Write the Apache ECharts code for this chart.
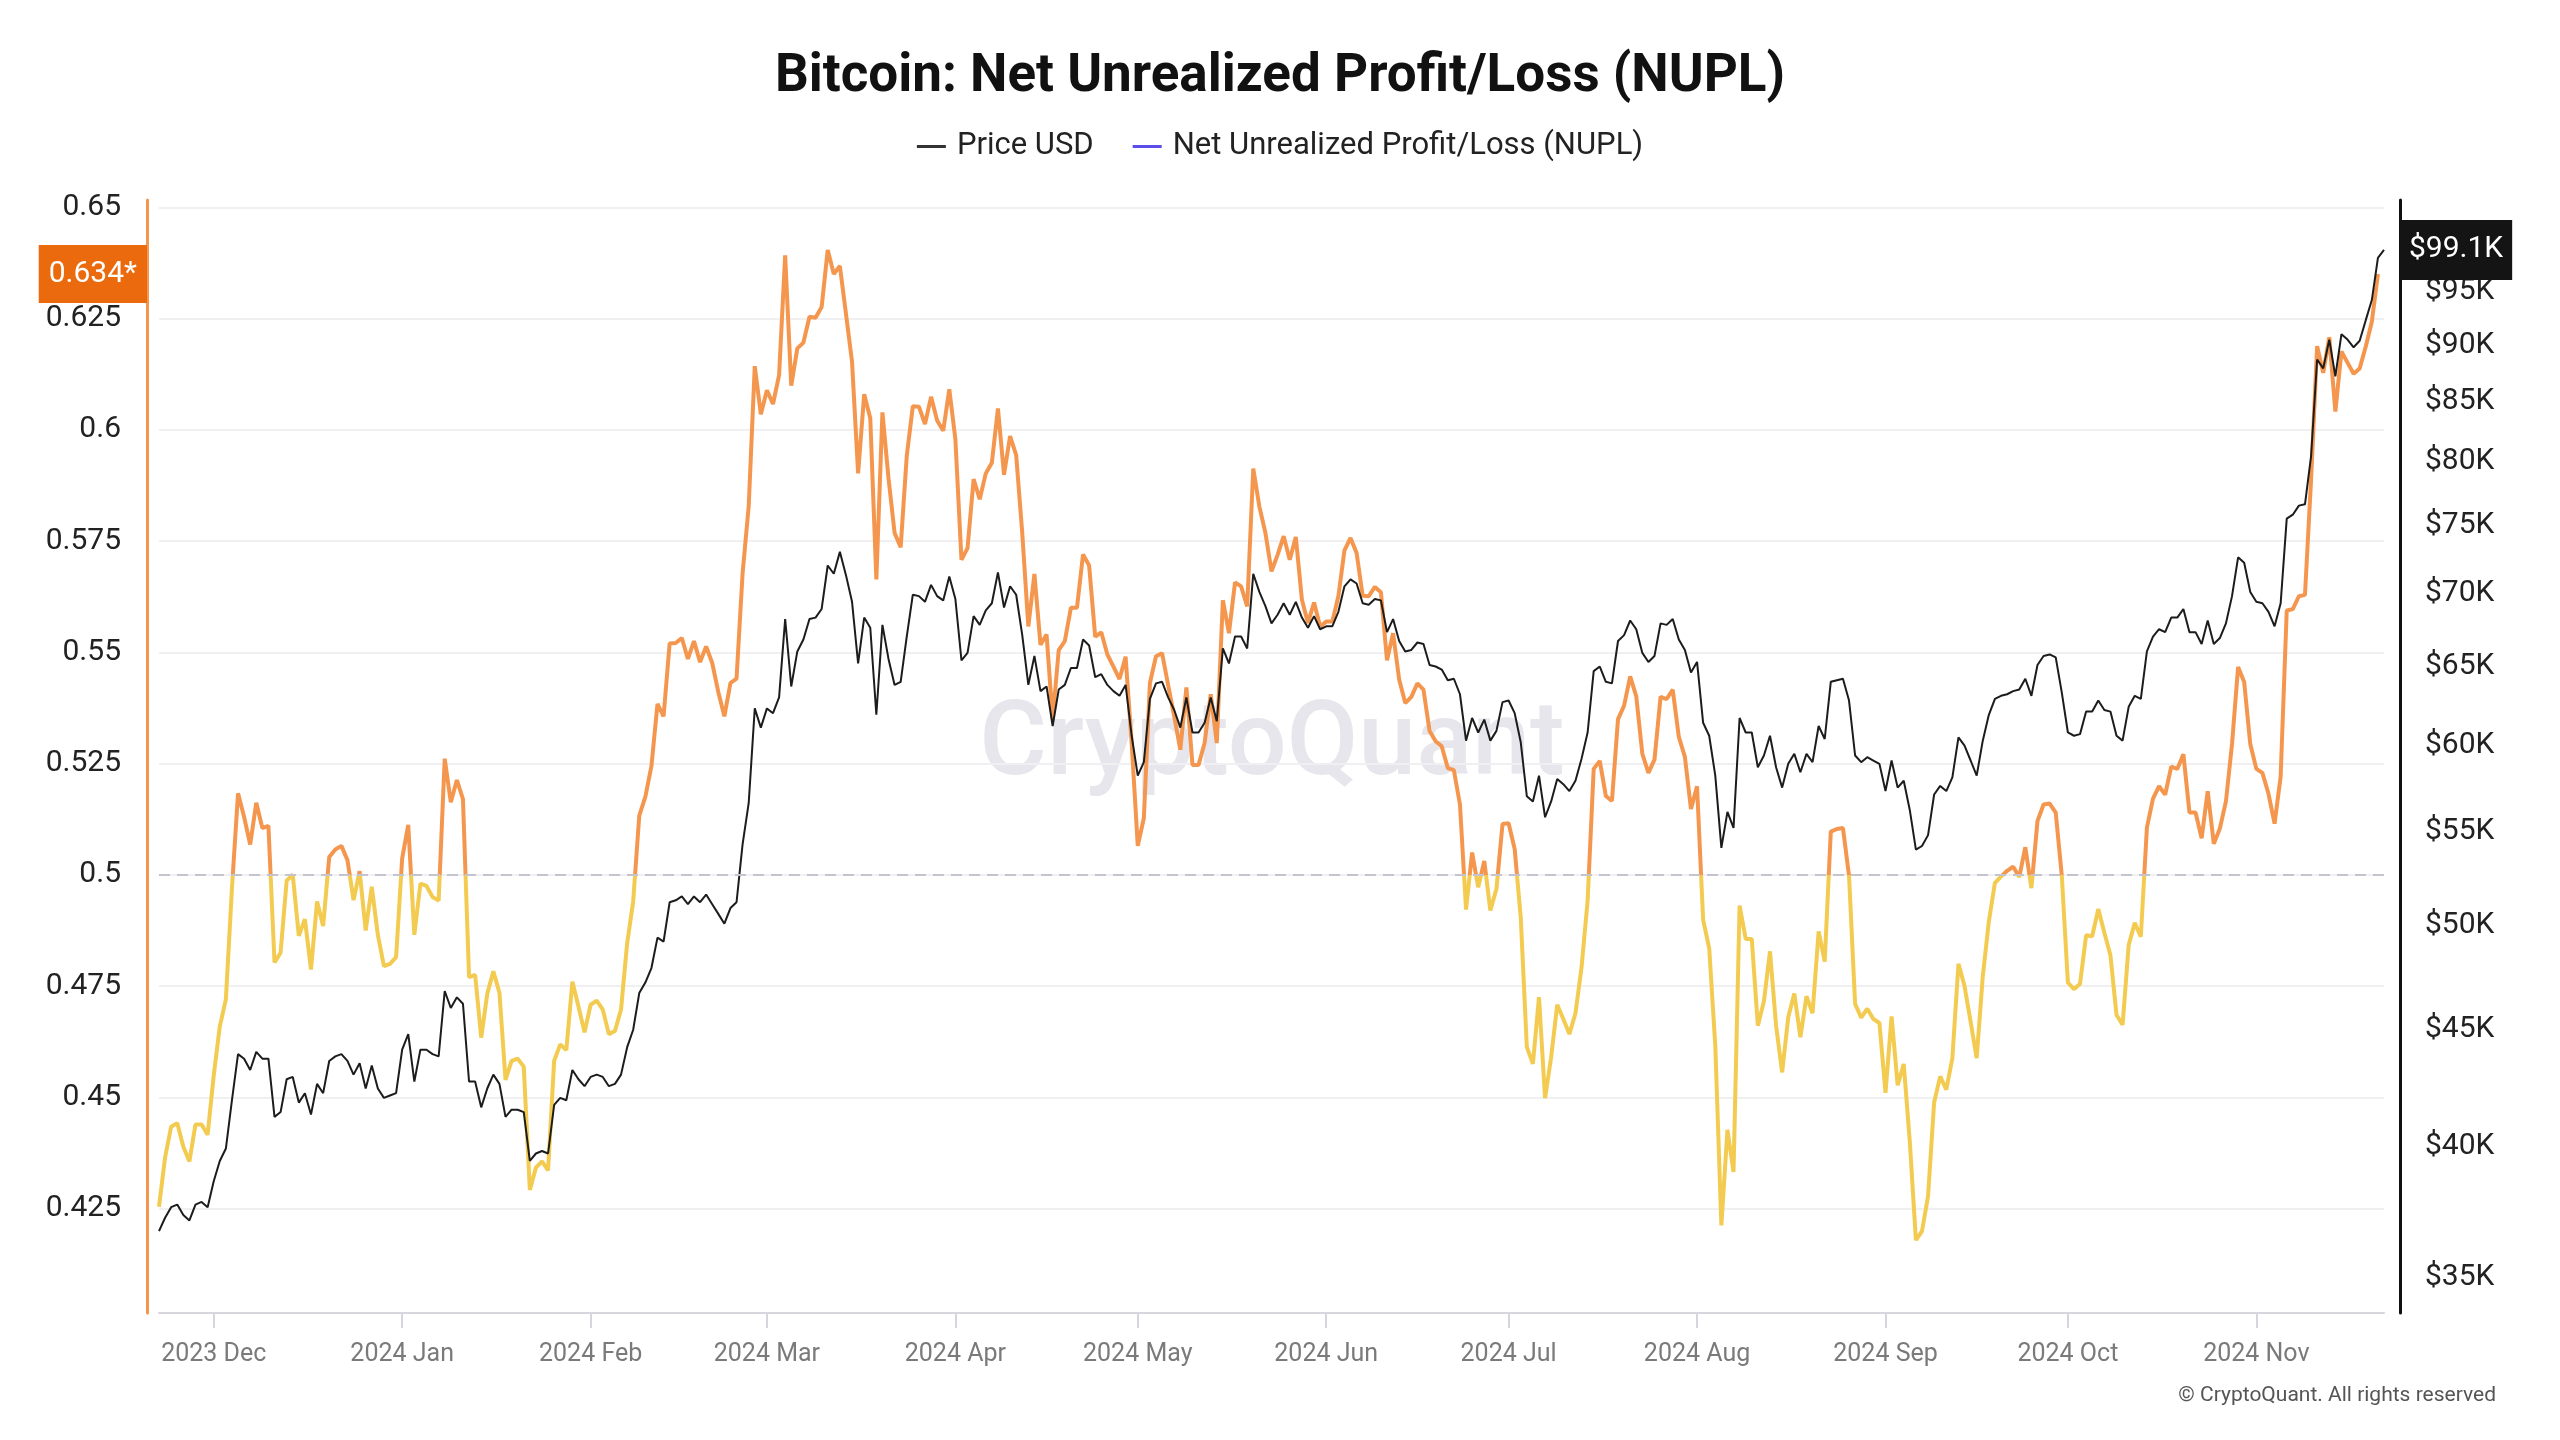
<!DOCTYPE html>
<html>
<head>
<meta charset="utf-8">
<script src="https://cdn.jsdelivr.net/npm/echarts@6/dist/echarts.min.js"></script>
<style>
html,body{margin:0;padding:0;background:#fff;}
#chart{width:2560px;height:1440px;}
</style>
</head>
<body>
<div id="chart"></div>
<script>
// ---------- data ----------
const firstDate = '2023-11-22';
const monthLabels = ['Jan','Feb','Mar','Apr','May','Jun','Jul','Aug','Sep','Oct','Nov','Dec'];

// Price USD, thousands of dollars, daily from 2023-11-22 to 2024-11-22
const priceUsdK = [
  36.7, 37.2, 37.6, 37.7, 37.3, 37.1, 37.7, 37.8, 37.6,
  38.6, 39.4, 39.9, 41.9, 43.9, 43.7, 43.2, 44.0, 43.7, 43.7, 41.2, 41.4, 42.8, 42.9, 41.8, 42.2, 41.3, 42.6, 42.2, 43.6, 43.8, 43.9, 43.6, 43.0, 43.5, 42.4, 43.4, 42.4, 42.0, 42.1, 42.2,
  44.1, 44.8, 42.7, 44.1, 44.1, 43.9, 43.8, 46.8, 46.0, 46.5, 46.2, 42.7, 42.7, 41.6, 42.4, 43.0, 42.6, 41.2, 41.5, 41.5, 41.4, 39.4, 39.7, 39.8, 39.7, 41.7, 42.0, 41.9, 43.2, 42.8, 42.5,
  42.9, 43.0, 42.9, 42.5, 42.6, 43.0, 44.2, 45.0, 46.7, 47.2, 47.9, 49.4, 49.2, 51.2, 51.3, 51.5, 51.1, 51.5, 51.2, 51.6, 51.1, 50.6, 50.1, 50.9, 51.2, 54.3, 56.6, 62.3, 61.1,
  62.3, 62.0, 63.0, 68.2, 63.7, 66.0, 66.8, 68.2, 68.3, 68.9, 72.0, 71.4, 73.0, 71.3, 69.4, 65.2, 68.3, 67.6, 61.9, 67.8, 65.5, 63.8, 64.0, 67.0, 69.9, 69.8, 69.4, 70.6, 69.8, 69.5, 71.2,
  69.6, 65.4, 65.9, 68.4, 67.8, 68.8, 69.3, 71.5, 69.0, 70.5, 69.9, 67.1, 63.8, 65.7, 63.4, 63.7, 61.2, 63.5, 63.8, 64.9, 64.9, 66.8, 66.4, 64.3, 64.5, 63.8, 63.4, 63.1, 63.8, 60.6,
  58.2, 59.0, 62.9, 63.9, 64.0, 63.0, 62.2, 61.1, 63.0, 60.8, 60.8, 61.4, 63.0, 61.5, 66.2, 65.2, 67.0, 67.0, 66.2, 71.4, 70.1, 69.1, 67.9, 68.5, 69.3, 68.5, 69.4, 68.3, 67.6, 68.4, 67.5,
  67.7, 67.7, 68.7, 70.5, 71.0, 70.7, 69.3, 69.2, 69.6, 69.5, 67.3, 68.2, 66.7, 66.0, 66.1, 66.6, 66.5, 65.1, 65.0, 64.8, 64.1, 64.2, 63.2, 60.3, 61.7, 60.8, 61.6, 60.3, 60.9, 62.7,
  62.8, 62.0, 60.2, 57.0, 56.7, 58.2, 55.8, 56.7, 58.0, 57.7, 57.3, 57.9, 59.2, 60.8, 64.7, 65.0, 64.0, 63.9, 66.7, 67.1, 68.1, 67.5, 65.9, 65.3, 65.7, 67.9, 67.8, 68.2, 66.8, 66.1, 64.6,
  65.3, 61.4, 60.6, 58.2, 54.1, 56.1, 55.2, 61.7, 60.8, 60.8, 58.7, 59.4, 60.6, 58.7, 57.5, 58.9, 59.5, 58.4, 59.5, 59.0, 61.2, 60.4, 64.0, 64.1, 64.2, 62.8, 59.4, 59.0, 59.3, 59.1, 58.9,
  57.3, 59.1, 57.5, 57.9, 56.2, 54.0, 54.2, 54.8, 57.1, 57.6, 57.3, 58.1, 60.5, 60.0, 59.1, 58.2, 60.3, 61.9, 62.9, 63.1, 63.2, 63.4, 63.5, 64.2, 63.1, 65.1, 65.7, 65.8, 65.6, 63.3,
  60.8, 60.6, 60.7, 62.1, 62.1, 62.8, 62.2, 62.1, 60.6, 60.3, 62.4, 63.1, 62.9, 66.0, 67.0, 67.5, 67.3, 68.3, 68.3, 68.9, 67.3, 67.3, 66.5, 68.1, 66.5, 66.9, 67.9, 69.8, 72.6, 72.2, 70.1,
  69.4, 69.3, 68.7, 67.7, 69.3, 75.5, 75.8, 76.5, 76.6, 80.4, 88.7, 87.9, 90.5, 87.2, 91.0, 90.5, 89.8, 90.4, 92.3, 94.2, 98.3, 99.1
];

// NUPL, daily from 2023-11-22 to 2024-11-21
const nuplValues = [
  0.4254, 0.4365, 0.4434, 0.4442, 0.4389, 0.4356, 0.4439, 0.4439, 0.4416,
  0.4549, 0.4659, 0.4720, 0.4970, 0.5183, 0.5130, 0.5068, 0.5162, 0.5105, 0.5110, 0.4803, 0.4825, 0.4987, 0.5000, 0.4863, 0.4900, 0.4787, 0.4940, 0.4885, 0.5040, 0.5057, 0.5065, 0.5033, 0.4943, 0.5008, 0.4875, 0.4973, 0.4865, 0.4795, 0.4800, 0.4815,
  0.5037, 0.5112, 0.4865, 0.4980, 0.4975, 0.4950, 0.4942, 0.5261, 0.5163, 0.5213, 0.5170, 0.4770, 0.4775, 0.4634, 0.4733, 0.4783, 0.4735, 0.4539, 0.4582, 0.4587, 0.4569, 0.4292, 0.4342, 0.4356, 0.4336, 0.4582, 0.4619, 0.4606, 0.4760, 0.4704, 0.4646,
  0.4708, 0.4717, 0.4697, 0.4642, 0.4649, 0.4697, 0.4845, 0.4940, 0.5133, 0.5175, 0.5244, 0.5384, 0.5356, 0.5520, 0.5521, 0.5532, 0.5485, 0.5525, 0.5478, 0.5513, 0.5476, 0.5411, 0.5356, 0.5431, 0.5441, 0.5678, 0.5828, 0.6143, 0.6035,
  0.6089, 0.6058, 0.6123, 0.6392, 0.6099, 0.6183, 0.6196, 0.6254, 0.6252, 0.6276, 0.6404, 0.6350, 0.6368, 0.6261, 0.6153, 0.5902, 0.6080, 0.6026, 0.5664, 0.6039, 0.5891, 0.5768, 0.5736, 0.5941, 0.6053, 0.6052, 0.6013, 0.6074, 0.6021, 0.5998, 0.6091,
  0.5979, 0.5708, 0.5734, 0.5889, 0.5844, 0.5902, 0.5926, 0.6048, 0.5899, 0.5986, 0.5943, 0.5768, 0.5558, 0.5676, 0.5517, 0.5540, 0.5350, 0.5505, 0.5525, 0.5600, 0.5600, 0.5720, 0.5695, 0.5535, 0.5545, 0.5495, 0.5468, 0.5440, 0.5490, 0.5296,
  0.5065, 0.5127, 0.5431, 0.5491, 0.5498, 0.5426, 0.5356, 0.5281, 0.5421, 0.5247, 0.5247, 0.5296, 0.5406, 0.5296, 0.5617, 0.5543, 0.5657, 0.5648, 0.5603, 0.5913, 0.5828, 0.5768, 0.5682, 0.5719, 0.5761, 0.5708, 0.5759, 0.5618, 0.5566, 0.5612, 0.5558,
  0.5569, 0.5569, 0.5626, 0.5729, 0.5757, 0.5723, 0.5627, 0.5626, 0.5647, 0.5635, 0.5482, 0.5543, 0.5439, 0.5386, 0.5400, 0.5430, 0.5416, 0.5323, 0.5300, 0.5289, 0.5240, 0.5235, 0.5158, 0.4922, 0.5050, 0.4972, 0.5031, 0.4920, 0.4968, 0.5114,
  0.5116, 0.5058, 0.4904, 0.4613, 0.4575, 0.4725, 0.4498, 0.4590, 0.4708, 0.4676, 0.4642, 0.4689, 0.4792, 0.4942, 0.5238, 0.5256, 0.5177, 0.5166, 0.5350, 0.5380, 0.5446, 0.5401, 0.5272, 0.5229, 0.5259, 0.5400, 0.5395, 0.5416, 0.5310, 0.5265, 0.5148,
  0.5199, 0.4899, 0.4835, 0.4616, 0.4212, 0.4427, 0.4332, 0.4931, 0.4856, 0.4856, 0.4661, 0.4716, 0.4828, 0.4661, 0.4556, 0.4680, 0.4733, 0.4635, 0.4727, 0.4689, 0.4873, 0.4805, 0.5097, 0.5103, 0.5105, 0.4998, 0.4710, 0.4679, 0.4699, 0.4676, 0.4667,
  0.4510, 0.4682, 0.4527, 0.4575, 0.4400, 0.4179, 0.4199, 0.4278, 0.4489, 0.4547, 0.4517, 0.4588, 0.4800, 0.4750, 0.4670, 0.4588, 0.4772, 0.4895, 0.4982, 0.4996, 0.5009, 0.5018, 0.4995, 0.5062, 0.4970, 0.5121, 0.5158, 0.5160, 0.5140, 0.4998,
  0.4758, 0.4743, 0.4755, 0.4864, 0.4862, 0.4923, 0.4870, 0.4819, 0.4685, 0.4663, 0.4842, 0.4892, 0.4861, 0.5106, 0.5171, 0.5199, 0.5180, 0.5243, 0.5238, 0.5271, 0.5140, 0.5140, 0.5082, 0.5188, 0.5070, 0.5104, 0.5165, 0.5294, 0.5467, 0.5433, 0.5294,
  0.5238, 0.5229, 0.5182, 0.5115, 0.5221, 0.5594, 0.5597, 0.5626, 0.5629, 0.5887, 0.6188, 0.6128, 0.6208, 0.6041, 0.6176, 0.6151, 0.6126, 0.6138, 0.6187, 0.6243, 0.6350
];

const nuplAxisTicks = [0.425, 0.45, 0.475, 0.5, 0.525, 0.55, 0.575, 0.6, 0.625, 0.65];
const priceAxisTicksK = [35, 40, 45, 50, 55, 60, 65, 70, 75, 80, 85, 90, 95];
const nuplThreshold = 0.5;
const nuplLatestText = '0.634*';
const seriesNames = ['Price USD', 'Net Unrealized Profit/Loss (NUPL)'];

// ---------- categories (one per day) ----------
const dates = [];
{
  const d0 = new Date(firstDate + 'T00:00:00Z');
  for (let i = 0; i < priceUsdK.length; i++) {
    const d = new Date(d0.getTime() + i * 86400000);
    dates.push(d.toISOString().slice(0, 10));
  }
}
const isMonthStart = (idx, v) => v.slice(8, 10) === '01';
const FONT = 'Roboto';

const ORANGE = '#F4964D';
const YELLOW = '#F2CB50';

const chart = echarts.init(document.getElementById('chart'), null, {renderer: 'canvas'});
chart.setOption({
  animation: false,
  backgroundColor: '#ffffff',
  title: {
    text: 'Bitcoin: Net Unrealized Profit/Loss (NUPL)',
    left: 'center',
    top: 46,
    textStyle: {fontFamily: FONT, fontSize: 53, fontWeight: 'bold', color: '#111111'}
  },
  legend: {
    top: 126,
    left: 'center',
    icon: 'rect',
    itemWidth: 29,
    itemHeight: 3,
    itemGap: 39,
    selectedMode: false,
    textStyle: {fontFamily: FONT, fontSize: 31, color: '#222222', padding: [0, 0, 0, 6]},
    data: [
      {name: seriesNames[0], itemStyle: {color: '#333333'}},
      {name: seriesNames[1], itemStyle: {color: '#5D4DE8'}}
    ]
  },
  grid: {left: 159, right: 176, top: 200, bottom: 127},
  xAxis: {
    type: 'category',
    data: dates,
    boundaryGap: false,
    axisLine: {show: true, lineStyle: {color: '#D6D6DE', width: 2}},
    axisTick: {show: true, interval: isMonthStart, length: 15, lineStyle: {color: '#D6D6DE', width: 2}},
    axisLabel: {
      interval: isMonthStart,
      margin: 29,
      fontFamily: FONT, fontSize: 25, color: '#7A7A7A',
      formatter: v => v.slice(0, 4) + ' ' + monthLabels[parseInt(v.slice(5, 7), 10) - 1]
    },
    splitLine: {show: false}
  },
  yAxis: [
    {
      type: 'value',
      position: 'left',
      min: 0.40153,
      max: 0.65164,
      offset: 12,
      axisLine: {show: true, lineStyle: {color: ORANGE, width: 3}},
      axisTick: {show: false, customValues: nuplAxisTicks},
      axisLabel: {
        customValues: nuplAxisTicks,
        margin: 26,
        fontFamily: FONT, fontSize: 30, color: '#222222',
        formatter: v => String(+Number(v).toFixed(3))
      },
      splitLine: {show: true, lineStyle: {color: '#F0F0F2', width: 2}},
      axisPointer: {
        show: true,
        type: 'none',
        status: 'show',
        triggerTooltip: false,
        value: nuplValues[nuplValues.length - 1],
        label: {
          show: true, formatter: nuplLatestText, margin: 0,
          backgroundColor: '#EC6A0E', color: '#ffffff',
          fontFamily: FONT, fontSize: 30, padding: [14, 10, 14, 10], borderRadius: 0
        }
      }
    },
    {
      type: 'log',
      logBase: 10,
      position: 'right',
      min: 33.78,
      max: 104.24,
      offset: 16,
      axisLine: {show: true, lineStyle: {color: '#111111', width: 3}},
      axisTick: {show: false, customValues: priceAxisTicksK},
      axisLabel: {
        customValues: priceAxisTicksK,
        margin: 25,
        fontFamily: FONT, fontSize: 30, color: '#222222',
        formatter: v => '$' + Math.round(v) + 'K'
      },
      splitLine: {show: false},
      axisPointer: {
        show: true,
        type: 'none',
        status: 'show',
        triggerTooltip: false,
        value: priceUsdK[priceUsdK.length - 1],
        label: {
          show: true, margin: 0,
          formatter: p => '$' + Number(p.value).toFixed(1) + 'K',
          backgroundColor: '#141414', color: '#ffffff',
          fontFamily: FONT, fontSize: 30, padding: [15, 9, 15, 9], borderRadius: 0
        }
      }
    }
  ],
  visualMap: [{
    type: 'piecewise',
    show: false,
    seriesIndex: 0,
    dimension: 1,
    pieces: [
      {gte: 0.2, lt: nuplThreshold, color: YELLOW},
      {gte: nuplThreshold, lte: 0.9, color: ORANGE}
    ],
    outOfRange: {color: YELLOW}
  }],
  series: [
    {
      name: seriesNames[1],
      type: 'line',
      yAxisIndex: 0,
      data: nuplValues,
      showSymbol: false,
      symbol: 'none',
      lineStyle: {width: 4},
      itemStyle: {color: '#5D4DE8'},
      z: 2,
      markLine: {
        silent: true,
        symbol: 'none',
        label: {show: false},
        lineStyle: {color: '#C4C4CE', width: 2, type: [11, 7]},
        data: [{yAxis: nuplThreshold}]
      }
    },
    {
      name: seriesNames[0],
      type: 'line',
      yAxisIndex: 1,
      data: priceUsdK,
      showSymbol: false,
      symbol: 'none',
      lineStyle: {width: 2, color: '#1C1C1C'},
      itemStyle: {color: '#333333'},
      z: 3
    }
  ],
  graphic: [
    {
      type: 'text',
      x: 1272, y: 748, z: 0,
      silent: true,
      style: {
        text: 'CryptoQuant',
        font: '500 104px Roboto',
        fill: 'rgba(205,205,218,0.5)',
        textAlign: 'center',
        textVerticalAlign: 'middle'
      }
    },
    {
      type: 'text',
      x: 2496, y: 1396,
      silent: true,
      style: {
        text: '\u00A9 CryptoQuant. All rights reserved',
        font: '21px Roboto',
        fill: '#555555',
        textAlign: 'right',
        textVerticalAlign: 'middle'
      }
    }
  ]
});
</script>
</body>
</html>
